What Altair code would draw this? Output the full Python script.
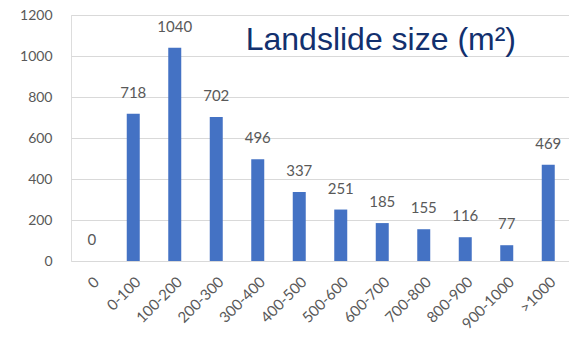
import altair as alt
import pandas as pd

# Landslide counts per size class (m²)
size_classes = ["0", "0-100", "100-200", "200-300", "300-400", "400-500",
                "500-600", "600-700", "700-800", "800-900", "900-1000", ">1000"]
counts = [0, 718, 1040, 702, 496, 337, 251, 185, 155, 116, 77, 469]
y_ticks = [0, 200, 400, 600, 800, 1000, 1200]

df = pd.DataFrame({"size": size_classes, "count": counts})

label_font = "Lato"
gray = "#595959"

x_enc = alt.X("size:N", sort=size_classes, title=None,
              scale=alt.Scale(paddingInner=0.0, paddingOuter=0.0),
              axis=alt.Axis(labelAngle=-45, labelFont=label_font, labelFontSize=15,
                            labelColor=gray, domain=False, ticks=False,
                            labelPadding=13, grid=False))
y_enc = alt.Y("count:Q", title=None,
              scale=alt.Scale(domain=[0, 1200], nice=False),
              axis=alt.Axis(values=y_ticks, format="d", labelFont=label_font,
                            labelFontSize=14, labelColor=gray, domain=False,
                            ticks=False, labelPadding=19, gridColor="#d9d9d9",
                            gridWidth=1))

bars = alt.Chart(df).mark_bar(color="#4472C4", size=13).encode(x=x_enc, y=y_enc)

labels = alt.Chart(df).mark_text(
    baseline="middle", dy=-21, font=label_font, fontSize=15, color=gray
).encode(x=alt.X("size:N", sort=size_classes), y="count:Q", text="count:Q")

# Chart heading placed inside the plot area, upper right
heading = alt.Chart(pd.DataFrame({"t": ["Landslide size (m²)"]})).mark_text(
    align="right", baseline="alphabetic", font="Liberation Sans", fontSize=32,
    color="#12306e"
).encode(x=alt.value(445), y=alt.value(35), text="t:N")

chart = alt.layer(bars, labels, heading).properties(
    width=498, height=246,
    autosize=alt.AutoSizeParams(type="none"),
    padding={"left": 71, "top": 15, "right": 0, "bottom": 76},
).configure_view(stroke=None).configure(background="white")

chart.save("out.html", embed_options={"renderer": "svg", "actions": False})
